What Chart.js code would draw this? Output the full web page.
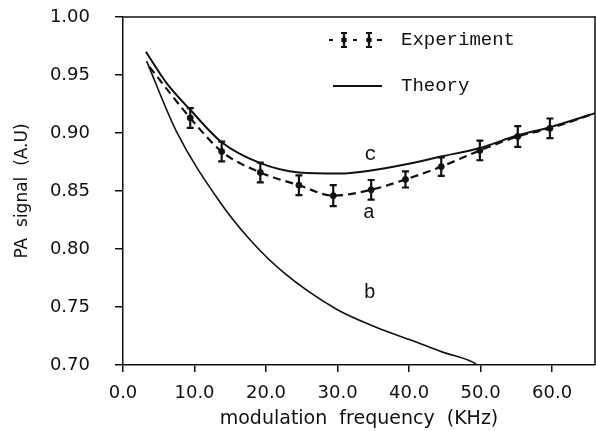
<!DOCTYPE html>
<html>
<head>
<meta charset="utf-8">
<script src="https://cdn.jsdelivr.net/npm/chart.js@4.4.1/dist/chart.umd.min.js"></script>
<style>
  html, body { margin: 0; padding: 0; background: #fff; overflow: hidden; }
  #wrap { width: 596px; height: 431px; position: relative; }
  canvas { display: block; }
</style>
</head>
<body>
<div id="wrap"><canvas id="paChart"></canvas></div>
<script>
// measured PA signal (A.U) against modulation frequency (KHz)
const expFreq   = [9.4, 13.8, 19.2, 24.6, 29.4, 34.7, 39.5, 44.5, 49.9, 55.2, 59.7];
const expSignal = [0.913, 0.884, 0.866, 0.855, 0.846, 0.851, 0.860, 0.871, 0.885, 0.897, 0.904];
const expError  = [0.0085, 0.0085, 0.0085, 0.0085, 0.009, 0.0085, 0.007, 0.008, 0.0085, 0.009, 0.0085];

// dashed curve (a) through the measurements, run out to both ends
const aFreq   = [3.7, ...expFreq, 66];
const aSignal = [0.957, ...expSignal, 0.917];

// theory curves (c) and (b)
const cFreq   = [3.2, 6.1, 9.4, 13.8, 19.2, 24.6, 30.3, 34.0, 39.6, 44.3, 49.9, 55.2, 59.7, 66];
const cSignal = [0.970, 0.943, 0.920, 0.892, 0.874, 0.866, 0.865, 0.867, 0.873, 0.8795, 0.887, 0.898, 0.905, 0.917];
const bFreq   = [3.3, 7.5, 13.5, 17.7, 22.4, 29.8, 35.4, 41.0, 44.7, 48.9, 49.4];
const bSignal = [0.962, 0.901, 0.841, 0.8084, 0.780, 0.7483, 0.7326, 0.7198, 0.7111, 0.7025, 0.7005];

const xTicks = [0, 10, 20, 30, 40, 50, 60];
const yTicks = [0.70, 0.75, 0.80, 0.85, 0.90, 0.95, 1.00];

const ink = '#111';
const pts = (xs, ys) => xs.map((x, i) => ({ x, y: ys[i] }));

// curve letters, placed in data units
const curveTags = [
  { text: 'c', x: 34.6, y: 0.8812 },
  { text: 'a', x: 34.4, y: 0.8316 },
  { text: 'b', x: 34.5, y: 0.7622 }
];

// vertical error bars with short caps on the measured points
const errorBars = {
  id: 'errorBars',
  afterDatasetsDraw(chart) {
    const { ctx, scales: { x, y } } = chart;
    ctx.save();
    ctx.strokeStyle = ink;
    ctx.lineWidth = 2.2;
    expFreq.forEach((f, i) => {
      const px = x.getPixelForValue(f);
      const top = y.getPixelForValue(expSignal[i] + expError[i]);
      const bot = y.getPixelForValue(expSignal[i] - expError[i]);
      ctx.beginPath();
      ctx.moveTo(px, top); ctx.lineTo(px, bot);
      ctx.moveTo(px - 3.5, top); ctx.lineTo(px + 3.5, top);
      ctx.moveTo(px - 3.5, bot); ctx.lineTo(px + 3.5, bot);
      ctx.stroke();
    });
    ctx.restore();
  }
};

// top and right frame lines, legend and curve letters
const decorations = {
  id: 'decorations',
  afterDraw(chart) {
    const { ctx, chartArea: ca, scales: { x, y } } = chart;
    ctx.save();
    ctx.strokeStyle = ink;
    ctx.lineWidth = 1.5;
    ctx.beginPath();
    ctx.moveTo(ca.left, ca.top); ctx.lineTo(ca.right + 1, ca.top);
    ctx.moveTo(ca.right, ca.top); ctx.lineTo(ca.right, ca.bottom);
    ctx.stroke();

    ctx.fillStyle = ink;
    ctx.font = '19px "Liberation Mono"';
    ctx.textBaseline = 'middle';

    // legend: experiment
    const lx = ca.left + 206, ly1 = ca.top + 23, ly2 = ca.top + 69;
    ctx.lineWidth = 2.2;
    ctx.beginPath();
    [[0, 4], [24, 28], [48, 53]].forEach(([a, b]) => { ctx.moveTo(lx + a, ly1); ctx.lineTo(lx + b, ly1); });
    [15, 40].forEach(dx => {
      const px = lx + dx;
      ctx.moveTo(px, ly1 - 7); ctx.lineTo(px, ly1 + 7);
      ctx.moveTo(px - 3, ly1 - 7); ctx.lineTo(px + 3, ly1 - 7);
      ctx.moveTo(px - 3, ly1 + 7); ctx.lineTo(px + 3, ly1 + 7);
    });
    ctx.stroke();
    [15, 40].forEach(dx => { ctx.beginPath(); ctx.arc(lx + dx, ly1, 2.8, 0, Math.PI * 2); ctx.fill(); });
    ctx.fillText(chart.data.datasets[0].label, lx + 72, ly1);

    // legend: theory
    ctx.lineWidth = 2;
    ctx.beginPath();
    ctx.moveTo(lx + 4, ly2); ctx.lineTo(lx + 53, ly2);
    ctx.stroke();
    ctx.fillText(chart.data.datasets[2].label, lx + 72, ly2);

    ctx.font = '20px "Liberation Mono"';
    ctx.textAlign = 'center';
    curveTags.forEach(t => ctx.fillText(t.text, x.getPixelForValue(t.x), y.getPixelForValue(t.y)));
    ctx.restore();
  }
};

const tickFont = { family: '"DejaVu Sans"', size: 18 };

new Chart(document.getElementById('paChart'), {
  type: 'scatter',
  data: {
    datasets: [
      {
        label: 'Experiment',
        data: pts(expFreq, expSignal),
        showLine: false,
        pointRadius: 3,
        pointBackgroundColor: ink,
        pointBorderColor: ink
      },
      {
        label: 'a',
        data: pts(aFreq, aSignal),
        showLine: true,
        borderColor: ink,
        borderWidth: 2.2,
        borderDash: [8, 5],
        pointRadius: 0,
        cubicInterpolationMode: 'monotone'
      },
      {
        label: 'Theory',
        data: pts(cFreq, cSignal),
        showLine: true,
        borderColor: ink,
        borderWidth: 2,
        pointRadius: 0,
        cubicInterpolationMode: 'monotone'
      },
      {
        label: 'Theory b',
        data: pts(bFreq, bSignal),
        showLine: true,
        borderColor: ink,
        borderWidth: 1.6,
        pointRadius: 0,
        cubicInterpolationMode: 'monotone'
      }
    ]
  },
  options: {
    responsive: true,
    maintainAspectRatio: false,
    animation: false,
    layout: { autoPadding: false, padding: { top: 17, right: 1, left: 0, bottom: 0 } },
    plugins: { legend: { display: false }, tooltip: { enabled: false } },
    scales: {
      x: {
        type: 'linear',
        min: 0,
        max: 66,
        afterBuildTicks: s => { s.ticks = xTicks.map(v => ({ value: v })); },
        afterFit: s => { s.height = 66; s.paddingLeft = 0; s.paddingRight = 0; },
        border: { color: ink, width: 1.5 },
        grid: { drawOnChartArea: false, drawTicks: true, tickLength: 7, color: ink, lineWidth: 1.5 },
        ticks: { color: ink, font: tickFont, padding: 11, maxRotation: 0, callback: v => v.toFixed(1) },
        title: {
          display: true,
          text: 'modulation  frequency  (KHz)',
          color: ink,
          font: { family: '"DejaVu Sans"', size: 19 },
          padding: { top: 0, bottom: 1 }
        }
      },
      y: {
        type: 'linear',
        min: 0.70,
        max: 1.00,
        afterBuildTicks: s => { s.ticks = yTicks.map(v => ({ value: v })); },
        afterFit: s => { s.width = 123; s.paddingTop = 0; s.paddingBottom = 0; },
        border: { color: ink, width: 1.5 },
        grid: { drawOnChartArea: false, drawTicks: true, tickLength: 8, color: ink, lineWidth: 1.5 },
        ticks: { color: ink, font: tickFont, padding: 25, callback: v => v.toFixed(2) },
        title: {
          display: true,
          text: 'PA  signal  (A.U)',
          color: ink,
          font: { family: '"DejaVu Sans"', size: 17 },
          padding: { top: 12, bottom: 0 }
        }
      }
    }
  },
  plugins: [errorBars, decorations]
});
</script>
</body>
</html>
